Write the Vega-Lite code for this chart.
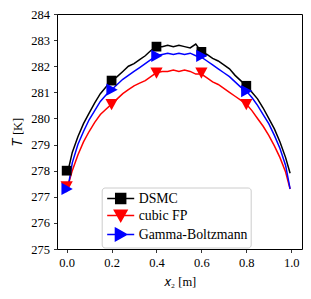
{
  "$schema": "https://vega.github.io/schema/vega-lite/v6.json",
  "width": 245,
  "height": 235,
  "autosize": {"type": "none"},
  "padding": {"left": 57, "top": 14, "right": 9, "bottom": 50},
  "config": {
    "font": "Liberation Serif",
    "view": {"stroke": "black", "strokeWidth": 1},
    "axis": {
      "grid": false, "domain": false, "tickColor": "black", "tickSize": 3.5, "tickWidth": 0.8,
      "labelColor": "black", "labelFont": "Liberation Serif", "labelFontSize": 12.5,
      "titleFont": "Liberation Serif", "titleFontSize": 12.5, "titleFontWeight": "normal", "titleColor": "black"
    }
  },
  "datasets": {
    "lines": [
      {"x": 0.005, "T": 277.95, "model": "DSMC"},
      {"x": 0.025, "T": 278.7, "model": "DSMC"},
      {"x": 0.05, "T": 279.3, "model": "DSMC"},
      {"x": 0.075, "T": 279.8, "model": "DSMC"},
      {"x": 0.1, "T": 280.2, "model": "DSMC"},
      {"x": 0.125, "T": 280.6, "model": "DSMC"},
      {"x": 0.15, "T": 280.95, "model": "DSMC"},
      {"x": 0.175, "T": 281.2, "model": "DSMC"},
      {"x": 0.2, "T": 281.45, "model": "DSMC"},
      {"x": 0.225, "T": 281.6, "model": "DSMC"},
      {"x": 0.25, "T": 281.8, "model": "DSMC"},
      {"x": 0.275, "T": 282.0, "model": "DSMC"},
      {"x": 0.3, "T": 282.1, "model": "DSMC"},
      {"x": 0.325, "T": 282.25, "model": "DSMC"},
      {"x": 0.35, "T": 282.4, "model": "DSMC"},
      {"x": 0.375, "T": 282.6, "model": "DSMC"},
      {"x": 0.4, "T": 282.75, "model": "DSMC"},
      {"x": 0.425, "T": 282.75, "model": "DSMC"},
      {"x": 0.45, "T": 282.8, "model": "DSMC"},
      {"x": 0.475, "T": 282.75, "model": "DSMC"},
      {"x": 0.5, "T": 282.8, "model": "DSMC"},
      {"x": 0.525, "T": 282.75, "model": "DSMC"},
      {"x": 0.55, "T": 282.7, "model": "DSMC"},
      {"x": 0.575, "T": 282.85, "model": "DSMC"},
      {"x": 0.6, "T": 282.55, "model": "DSMC"},
      {"x": 0.625, "T": 282.45, "model": "DSMC"},
      {"x": 0.65, "T": 282.3, "model": "DSMC"},
      {"x": 0.675, "T": 282.2, "model": "DSMC"},
      {"x": 0.7, "T": 282.05, "model": "DSMC"},
      {"x": 0.725, "T": 281.9, "model": "DSMC"},
      {"x": 0.75, "T": 281.65, "model": "DSMC"},
      {"x": 0.775, "T": 281.45, "model": "DSMC"},
      {"x": 0.8, "T": 281.25, "model": "DSMC"},
      {"x": 0.825, "T": 281.0, "model": "DSMC"},
      {"x": 0.85, "T": 280.75, "model": "DSMC"},
      {"x": 0.875, "T": 280.4, "model": "DSMC"},
      {"x": 0.9, "T": 280.0, "model": "DSMC"},
      {"x": 0.925, "T": 279.6, "model": "DSMC"},
      {"x": 0.95, "T": 279.1, "model": "DSMC"},
      {"x": 0.975, "T": 278.5, "model": "DSMC"},
      {"x": 0.995, "T": 277.9, "model": "DSMC"},
      {"x": 0.005, "T": 277.4, "model": "cubic FP"},
      {"x": 0.025, "T": 278.0, "model": "cubic FP"},
      {"x": 0.05, "T": 278.6, "model": "cubic FP"},
      {"x": 0.075, "T": 279.1, "model": "cubic FP"},
      {"x": 0.1, "T": 279.5, "model": "cubic FP"},
      {"x": 0.125, "T": 279.85, "model": "cubic FP"},
      {"x": 0.15, "T": 280.15, "model": "cubic FP"},
      {"x": 0.175, "T": 280.35, "model": "cubic FP"},
      {"x": 0.2, "T": 280.55, "model": "cubic FP"},
      {"x": 0.225, "T": 280.75, "model": "cubic FP"},
      {"x": 0.25, "T": 280.95, "model": "cubic FP"},
      {"x": 0.275, "T": 281.1, "model": "cubic FP"},
      {"x": 0.3, "T": 281.25, "model": "cubic FP"},
      {"x": 0.325, "T": 281.35, "model": "cubic FP"},
      {"x": 0.35, "T": 281.45, "model": "cubic FP"},
      {"x": 0.375, "T": 281.6, "model": "cubic FP"},
      {"x": 0.4, "T": 281.75, "model": "cubic FP"},
      {"x": 0.425, "T": 281.8, "model": "cubic FP"},
      {"x": 0.45, "T": 281.8, "model": "cubic FP"},
      {"x": 0.475, "T": 281.85, "model": "cubic FP"},
      {"x": 0.5, "T": 281.8, "model": "cubic FP"},
      {"x": 0.525, "T": 281.85, "model": "cubic FP"},
      {"x": 0.55, "T": 281.8, "model": "cubic FP"},
      {"x": 0.575, "T": 281.7, "model": "cubic FP"},
      {"x": 0.6, "T": 281.7, "model": "cubic FP"},
      {"x": 0.625, "T": 281.55, "model": "cubic FP"},
      {"x": 0.65, "T": 281.4, "model": "cubic FP"},
      {"x": 0.675, "T": 281.3, "model": "cubic FP"},
      {"x": 0.7, "T": 281.15, "model": "cubic FP"},
      {"x": 0.725, "T": 281.0, "model": "cubic FP"},
      {"x": 0.75, "T": 280.85, "model": "cubic FP"},
      {"x": 0.775, "T": 280.7, "model": "cubic FP"},
      {"x": 0.8, "T": 280.55, "model": "cubic FP"},
      {"x": 0.825, "T": 280.3, "model": "cubic FP"},
      {"x": 0.85, "T": 280.0, "model": "cubic FP"},
      {"x": 0.875, "T": 279.7, "model": "cubic FP"},
      {"x": 0.9, "T": 279.35, "model": "cubic FP"},
      {"x": 0.925, "T": 278.95, "model": "cubic FP"},
      {"x": 0.95, "T": 278.5, "model": "cubic FP"},
      {"x": 0.975, "T": 277.95, "model": "cubic FP"},
      {"x": 0.995, "T": 277.3, "model": "cubic FP"},
      {"x": 0.005, "T": 277.3, "model": "Gamma-Boltzmann"},
      {"x": 0.025, "T": 278.3, "model": "Gamma-Boltzmann"},
      {"x": 0.05, "T": 279.0, "model": "Gamma-Boltzmann"},
      {"x": 0.075, "T": 279.5, "model": "Gamma-Boltzmann"},
      {"x": 0.1, "T": 279.95, "model": "Gamma-Boltzmann"},
      {"x": 0.125, "T": 280.3, "model": "Gamma-Boltzmann"},
      {"x": 0.15, "T": 280.65, "model": "Gamma-Boltzmann"},
      {"x": 0.175, "T": 280.9, "model": "Gamma-Boltzmann"},
      {"x": 0.2, "T": 281.1, "model": "Gamma-Boltzmann"},
      {"x": 0.225, "T": 281.3, "model": "Gamma-Boltzmann"},
      {"x": 0.25, "T": 281.5, "model": "Gamma-Boltzmann"},
      {"x": 0.275, "T": 281.65, "model": "Gamma-Boltzmann"},
      {"x": 0.3, "T": 281.8, "model": "Gamma-Boltzmann"},
      {"x": 0.325, "T": 281.95, "model": "Gamma-Boltzmann"},
      {"x": 0.35, "T": 282.1, "model": "Gamma-Boltzmann"},
      {"x": 0.375, "T": 282.25, "model": "Gamma-Boltzmann"},
      {"x": 0.4, "T": 282.4, "model": "Gamma-Boltzmann"},
      {"x": 0.425, "T": 282.45, "model": "Gamma-Boltzmann"},
      {"x": 0.45, "T": 282.5, "model": "Gamma-Boltzmann"},
      {"x": 0.475, "T": 282.45, "model": "Gamma-Boltzmann"},
      {"x": 0.5, "T": 282.5, "model": "Gamma-Boltzmann"},
      {"x": 0.525, "T": 282.45, "model": "Gamma-Boltzmann"},
      {"x": 0.55, "T": 282.5, "model": "Gamma-Boltzmann"},
      {"x": 0.575, "T": 282.4, "model": "Gamma-Boltzmann"},
      {"x": 0.6, "T": 282.35, "model": "Gamma-Boltzmann"},
      {"x": 0.625, "T": 282.2, "model": "Gamma-Boltzmann"},
      {"x": 0.65, "T": 282.05, "model": "Gamma-Boltzmann"},
      {"x": 0.675, "T": 281.9, "model": "Gamma-Boltzmann"},
      {"x": 0.7, "T": 281.75, "model": "Gamma-Boltzmann"},
      {"x": 0.725, "T": 281.6, "model": "Gamma-Boltzmann"},
      {"x": 0.75, "T": 281.4, "model": "Gamma-Boltzmann"},
      {"x": 0.775, "T": 281.2, "model": "Gamma-Boltzmann"},
      {"x": 0.8, "T": 281.05, "model": "Gamma-Boltzmann"},
      {"x": 0.825, "T": 280.8, "model": "Gamma-Boltzmann"},
      {"x": 0.85, "T": 280.5, "model": "Gamma-Boltzmann"},
      {"x": 0.875, "T": 280.15, "model": "Gamma-Boltzmann"},
      {"x": 0.9, "T": 279.8, "model": "Gamma-Boltzmann"},
      {"x": 0.925, "T": 279.35, "model": "Gamma-Boltzmann"},
      {"x": 0.95, "T": 278.85, "model": "Gamma-Boltzmann"},
      {"x": 0.975, "T": 278.2, "model": "Gamma-Boltzmann"},
      {"x": 0.995, "T": 277.3, "model": "Gamma-Boltzmann"}
    ],
    "markers": [
      {"x": 0.0, "T": 278.0, "model": "DSMC"},
      {"x": 0.2, "T": 281.45, "model": "DSMC"},
      {"x": 0.4, "T": 282.75, "model": "DSMC"},
      {"x": 0.6, "T": 282.55, "model": "DSMC"},
      {"x": 0.8, "T": 281.25, "model": "DSMC"},
      {"x": 0.0, "T": 277.4, "model": "cubic FP"},
      {"x": 0.2, "T": 280.55, "model": "cubic FP"},
      {"x": 0.4, "T": 281.75, "model": "cubic FP"},
      {"x": 0.6, "T": 281.75, "model": "cubic FP"},
      {"x": 0.8, "T": 280.55, "model": "cubic FP"},
      {"x": 0.0, "T": 277.3, "model": "Gamma-Boltzmann"},
      {"x": 0.2, "T": 281.1, "model": "Gamma-Boltzmann"},
      {"x": 0.4, "T": 282.4, "model": "Gamma-Boltzmann"},
      {"x": 0.6, "T": 282.4, "model": "Gamma-Boltzmann"},
      {"x": 0.8, "T": 281.05, "model": "Gamma-Boltzmann"}
    ]
  },
  "encoding": {
    "x": {"field": "x", "type": "quantitative",
      "scale": {"domain": [-0.043, 1.048], "nice": false, "zero": false},
      "axis": {"values": [0, 0.2, 0.4, 0.6, 0.8, 1.0], "format": ".1f", "title": "𝑥₂ [m]", "labelPadding": 4, "titlePadding": 6,
        "labelFont": "Liberation Serif", "titleFont": "Liberation Serif"}},
    "y": {"field": "T", "type": "quantitative",
      "scale": {"domain": [275, 284], "nice": false, "zero": false},
      "axis": {"values": [275, 276, 277, 278, 279, 280, 281, 282, 283, 284], "title": "𝑇 [K]", "labelPadding": 4, "titlePadding": 6,
        "labelFont": "Liberation Serif", "titleFont": "Liberation Serif"}},
    "color": {"field": "model", "type": "nominal",
      "scale": {"domain": ["DSMC", "cubic FP", "Gamma-Boltzmann"], "range": ["#000000", "#ff0000", "#0000ff"]},
      "legend": {
        "title": null, "orient": "none", "legendX": 44.7, "legendY": 173.5,
        "padding": 3, "rowPadding": 0, "symbolSize": 196, "symbolStrokeWidth": 1.5,
        "symbolOffset": 8, "labelOffset": 10,
        "labelFont": "Liberation Serif", "labelFontSize": 13.8, "labelColor": "black",
        "fillColor": "rgba(255,255,255,0.8)", "strokeColor": "#cccccc", "cornerRadius": 3,
        "encode": {"symbols": {"update": {
          "shape": {"signal": "datum.value === 'DSMC' ? 'M-1.93,0H1.93M-0.71,-0.71H0.71V0.71H-0.71Z' : datum.value === 'cubic FP' ? 'M-1.93,0H1.93M-0.9,-0.75L0.9,-0.75L0,0.85Z' : 'M-1.93,0H1.93M-0.75,-0.9L0.85,0L-0.75,0.9Z'"},
          "fill": {"signal": "datum.value === 'DSMC' ? '#000000' : datum.value === 'cubic FP' ? '#ff0000' : '#0000ff'"},
          "stroke": {"signal": "datum.value === 'DSMC' ? '#000000' : datum.value === 'cubic FP' ? '#ff0000' : '#0000ff'"},
          "strokeWidth": {"value": 1.5},
          "opacity": {"value": 1},
          "fillOpacity": {"value": 1},
          "strokeOpacity": {"value": 1}
        }}}
      }}
  },
  "layer": [
    {
      "data": {"name": "lines"},
      "mark": {"type": "line", "strokeWidth": 1.5}
    },
    {
      "data": {"name": "markers"},
      "transform": [{"filter": "datum.model === 'DSMC'"}],
      "mark": {"type": "point", "filled": true, "size": 95, "opacity": 1, "shape": "square"}
    },
    {
      "data": {"name": "markers"},
      "transform": [{"filter": "datum.model === 'cubic FP'"}],
      "mark": {"type": "point", "filled": true, "size": 150, "opacity": 1, "shape": "M-1,-0.85L1,-0.85L0,1Z"}
    },
    {
      "data": {"name": "markers"},
      "transform": [{"filter": "datum.model === 'Gamma-Boltzmann'"}],
      "mark": {"type": "point", "filled": true, "size": 150, "opacity": 1, "shape": "M-0.85,-1L1,0L-0.85,1Z"}
    }
  ]
}
